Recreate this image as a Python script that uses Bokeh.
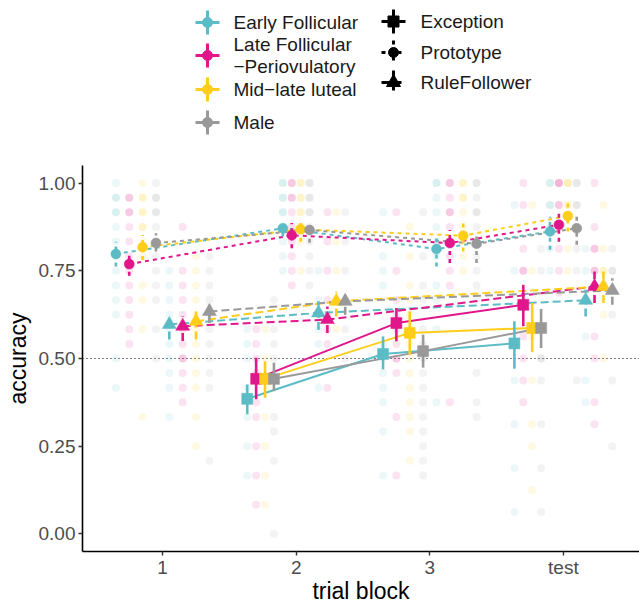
from bokeh.plotting import figure
from bokeh.layouts import column
from bokeh.models import Range1d, FixedTicker, PrintfTickFormatter, Span
from bokeh.embed import file_html
from bokeh.resources import INLINE
from bokeh.core.properties import value

FONT = "Liberation Sans"

blocks = ["1", "2", "3", "test"]
phases = ["Early Follicular", "Late Follicular", "Mid−late luteal", "Male"]
phase_label_lines = [["Early Follicular"], ["Late Follicular", "−Periovulatory"], ["Mid−late luteal"], ["Male"]]
strategies = ["Exception", "Prototype", "RuleFollower"]
colors = ["#5cbcc6", "#e0168a", "#ffcd1a", "#999999"]

# group means and interval ends (rows = phases, columns = blocks); None = not observed
exception_mean = [[None, 0.385, 0.513, 0.543], [None, 0.442, 0.601, 0.653],
                  [None, 0.442, 0.573, 0.587], [None, 0.442, 0.521, 0.587]]
exception_low = [[None, 0.341, 0.469, 0.471], [None, 0.384, 0.549, 0.592],
                 [None, 0.388, 0.511, 0.518], [None, 0.407, 0.474, 0.530]]
exception_high = [[None, 0.426, 0.563, 0.606], [None, 0.502, 0.644, 0.710],
                  [None, 0.492, 0.634, 0.658], [None, 0.488, 0.568, 0.641]]

prototype_mean = [[0.798, 0.871, 0.812, 0.862], [0.769, 0.851, 0.829, 0.881],
                  [0.817, 0.868, 0.850, 0.906], [0.829, 0.866, 0.827, 0.871]]
prototype_low = [[0.762, 0.848, 0.762, 0.810], [0.736, 0.814, 0.772, 0.833],
                 [0.781, 0.833, 0.805, 0.862], [0.805, 0.830, 0.772, 0.824]]
prototype_high = [[0.833, 0.890, 0.852, 0.904], [0.795, 0.886, 0.866, 0.914],
                  [0.852, 0.886, 0.890, 0.942], [0.857, 0.880, 0.848, 0.904]]

rule_mean = [[0.597, 0.630, None, 0.666], [0.592, 0.611, None, 0.705],
             [0.606, 0.663, None, 0.705], [0.634, 0.663, None, 0.694]]
rule_low = [[0.554, 0.582, None, 0.620], [0.550, 0.573, None, 0.658],
            [0.554, 0.620, None, 0.658], [0.601, 0.625, None, 0.653]]
rule_high = [[0.620, 0.663, None, 0.696], [0.620, 0.648, None, 0.748],
             [0.634, 0.691, None, 0.748], [0.653, 0.682, None, 0.729]]

# individual participants: number correct per block (blocks x phases)
trials_per_block = [24, 24, 24, 16]
bg_exception = [
    [[], [], [], []],
    [[14, 13, 12, 10, 9, 8, 6, 4], [14, 13, 12, 11, 9, 8, 6, 4, 2],
     [14, 12, 8, 6, 4, 2], [16, 14, 13, 12, 8, 7, 5, 0]],
    [[22, 19, 18, 17, 13, 12, 11, 10, 9, 7, 4], [22, 18, 16, 15, 14, 13, 12, 12, 11, 8, 4],
     [21, 19, 17, 16, 15, 14, 13, 12, 11, 10, 9, 8, 7, 5],
     [22, 19, 17, 16, 14, 13, 12, 11, 10, 9, 8, 7, 6, 5, 4]],
    [[15, 12, 9, 7, 5, 3, 1], [16, 15, 13, 12, 12, 9, 8, 7, 6],
     [15, 12, 9, 7, 5, 4, 2], [13, 12, 8, 8, 7, 5, 3, 1]],
]
bg_prototype = [
    [[24, 23, 23, 22, 22, 21, 20, 19, 18, 17, 16, 15, 12, 10],
     [23, 23, 22, 22, 21, 20, 19, 18, 17, 16, 15, 14, 13],
     [24, 23, 23, 22, 22, 21, 21, 20, 19, 17, 16, 14, 8],
     [24, 23, 23, 22, 22, 21, 20, 19, 18, 17, 16, 14, 12]],
    [[24, 24, 23, 23, 22, 22, 21, 20, 19, 18], [24, 24, 23, 23, 22, 21, 20, 19, 18, 17],
     [24, 24, 23, 23, 22, 22, 21, 20, 18], [24, 24, 23, 23, 22, 22, 21, 20, 19, 18, 17]],
    [[24, 24, 23, 22, 21, 20, 19, 17, 16, 14, 9], [24, 24, 23, 22, 22, 21, 20, 19, 18, 17, 9],
     [24, 24, 23, 23, 22, 21, 20, 19, 18], [24, 24, 23, 22, 22, 21, 20, 19, 18, 17, 16, 11, 9, 8]],
    [[16, 16, 15, 15, 14, 13, 12], [16, 16, 16, 15, 15, 14, 13, 12, 11],
     [16, 16, 16, 15, 15, 13, 12], [16, 16, 15, 15, 13, 12, 7]],
]
bg_rule = [
    [[18, 17, 16, 15, 14, 13, 12, 11, 10, 8], [21, 18, 17, 16, 15, 14, 13, 12, 12, 11, 10, 9],
     [19, 18, 17, 16, 15, 14, 13, 12, 11, 10, 8, 6], [19, 18, 17, 16, 15, 14, 13, 12, 11, 10, 5]],
    [[18, 16, 15, 14, 13, 10], [22, 20, 18, 16, 15, 14, 13, 10],
     [22, 20, 18, 16, 14], [22, 20, 18, 16, 14, 12]],
    [[], [], [], []],
    [[13, 12, 9, 7, 6], [16, 14, 13, 13, 12, 12, 9, 8, 6, 5],
     [15, 13, 12, 12, 10, 8], [13, 12, 12, 10, 7, 4]],
]

means = {"Exception": exception_mean, "Prototype": prototype_mean, "RuleFollower": rule_mean}
lows = {"Exception": exception_low, "Prototype": prototype_low, "RuleFollower": rule_low}
highs = {"Exception": exception_high, "Prototype": prototype_high, "RuleFollower": rule_high}
bgs = {"Exception": bg_exception, "Prototype": bg_prototype, "RuleFollower": bg_rule}
dashes = {"Exception": "solid", "Prototype": "4 4", "RuleFollower": "8 4"}
markers = {"Exception": "square", "Prototype": "circle", "RuleFollower": "triangle"}
msizes = {"Exception": 11, "Prototype": 10, "RuleFollower": 14}

# dodge positions
dodge_width = 0.8
xpos = {}
for b in range(len(blocks)):
    present = [s for s in strategies if any(means[s][ph][b] is not None for ph in range(4))]
    n = len(present) * len(phases)
    for si, s in enumerate(present):
        for ph in range(len(phases)):
            idx = si * len(phases) + ph
            xpos[(s, ph, b)] = (b + 1) + (idx - (n - 1) / 2) * dodge_width / n

W = 639
LEFT = 82
LEG_H = 150

# ---------------- main plot ----------------
p = figure(width=W, height=606 - LEG_H, x_range=Range1d(0.4, 4.57), y_range=Range1d(-0.05, 1.05),
           output_backend="svg", toolbar_location=None,
           min_border_left=LEFT, min_border_right=0, min_border_top=15, min_border_bottom=40)
p.xgrid.visible = False
p.ygrid.visible = False
p.outline_line_color = None
p.background_fill_color = "white"

p.xaxis.ticker = FixedTicker(ticks=[1, 2, 3, 4])
p.xaxis.major_label_overrides = {1: blocks[0], 2: blocks[1], 3: blocks[2], 4: blocks[3]}
p.yaxis.ticker = FixedTicker(ticks=[0, 0.25, 0.5, 0.75, 1.0])
p.yaxis.formatter = PrintfTickFormatter(format="%.2f")
p.xaxis.axis_label = "trial block"
p.yaxis.axis_label = "accuracy"
for ax in (p.xaxis, p.yaxis):
    ax.axis_line_color = "black"
    ax.axis_line_width = 1.6
    ax.major_tick_line_color = "#333333"
    ax.major_tick_line_width = 1.4
    ax.major_tick_in = 0
    ax.major_tick_out = 4
    ax.minor_tick_line_color = None
    ax.major_label_text_font = FONT
    ax.major_label_text_font_size = "19px"
    ax.major_label_text_color = "#4d4d4d"
    ax.axis_label_text_font = FONT
    ax.axis_label_text_font_size = "23px"
    ax.axis_label_text_font_style = "normal"
    ax.axis_label_text_color = "black"
p.xaxis.major_label_standoff = 1
p.xaxis.axis_label_standoff = -3
p.yaxis.major_label_standoff = 3
p.yaxis.axis_label_standoff = 5

p.add_layout(Span(location=0.5, dimension="width", line_color="black", line_width=1.2,
                  line_dash="1 3", level="underlay"))

# participant dots
for s in strategies:
    for b in range(len(blocks)):
        for ph in range(len(phases)):
            ks = bgs[s][b][ph]
            if not ks or (s, ph, b) not in xpos:
                continue
            xs = [xpos[(s, ph, b)]] * len(ks)
            ys = [k / trials_per_block[b] for k in ks]
            p.scatter(xs, ys, size=8, marker="circle", fill_color=colors[ph],
                      fill_alpha=0.12, line_color=None)

# connecting lines
for s in strategies:
    for ph in range(len(phases)):
        xs, ys = [], []
        for b in range(len(blocks)):
            m = means[s][ph][b]
            if m is not None:
                xs.append(xpos[(s, ph, b)])
                ys.append(m)
        p.line(xs, ys, line_color=colors[ph], line_width=2, line_dash=dashes[s])

# point ranges
for s in strategies:
    for ph in range(len(phases)):
        xs, ys, lo, hi = [], [], [], []
        for b in range(len(blocks)):
            m = means[s][ph][b]
            if m is not None:
                xs.append(xpos[(s, ph, b)])
                ys.append(m)
                lo.append(lows[s][ph][b])
                hi.append(highs[s][ph][b])
        p.segment(xs, lo, xs, hi, line_color=colors[ph], line_width=2.6, line_dash=dashes[s])
        p.scatter(xs, ys, marker=markers[s], size=msizes[s], fill_color=colors[ph],
                  line_color=colors[ph], line_width=0.5)

# ---------------- legend (data units = page pixels) ----------------
lg = figure(width=W, height=LEG_H, x_range=Range1d(LEFT, W), y_range=Range1d(LEG_H, 0),
            output_backend="svg", toolbar_location=None, x_axis_type=None, y_axis_type=None,
            min_border_left=LEFT, min_border_right=0, min_border_top=0, min_border_bottom=0)
lg.xgrid.visible = False
lg.ygrid.visible = False
lg.outline_line_color = None

key_x1 = 207
key_ys1 = [22, 55, 89, 122]
text_x1 = 233
half = 12
for ph in range(len(phases)):
    ky = key_ys1[ph]
    lg.segment([key_x1 - half], [ky], [key_x1 + half], [ky], line_color=colors[ph], line_width=3)
    lg.segment([key_x1], [ky - half], [key_x1], [ky + half], line_color=colors[ph], line_width=3)
    lg.scatter([key_x1], [ky], marker="circle", size=10, fill_color=colors[ph], line_color=colors[ph])
    lines = phase_label_lines[ph]
    n = len(lines)
    tys = [ky + (i - (n - 1) / 2) * 22 for i in range(n)]
    lg.text([text_x1] * n, tys, text=lines, text_font=value(FONT), text_font_size="19px",
            text_baseline="middle", text_align="left", text_color="#1a1a1a")

key_x2 = 393
key_ys2 = [21, 52, 82]
text_x2 = 420
for si, s in enumerate(strategies):
    ky = key_ys2[si]
    lg.segment([key_x2 - half], [ky], [key_x2 + half], [ky], line_color="black", line_width=3,
               line_dash=dashes[s])
    lg.segment([key_x2], [ky - half], [key_x2], [ky + half], line_color="black", line_width=3,
               line_dash=dashes[s])
    lg.scatter([key_x2], [ky], marker=markers[s], size=msizes[s], fill_color="black", line_color="black")
    lg.text([text_x2], [ky], text=[s], text_font=value(FONT), text_font_size="19px",
            text_baseline="middle", text_align="left", text_color="#1a1a1a")

layout = column(lg, p)
open("out.html", "w").write(file_html(layout, INLINE))
